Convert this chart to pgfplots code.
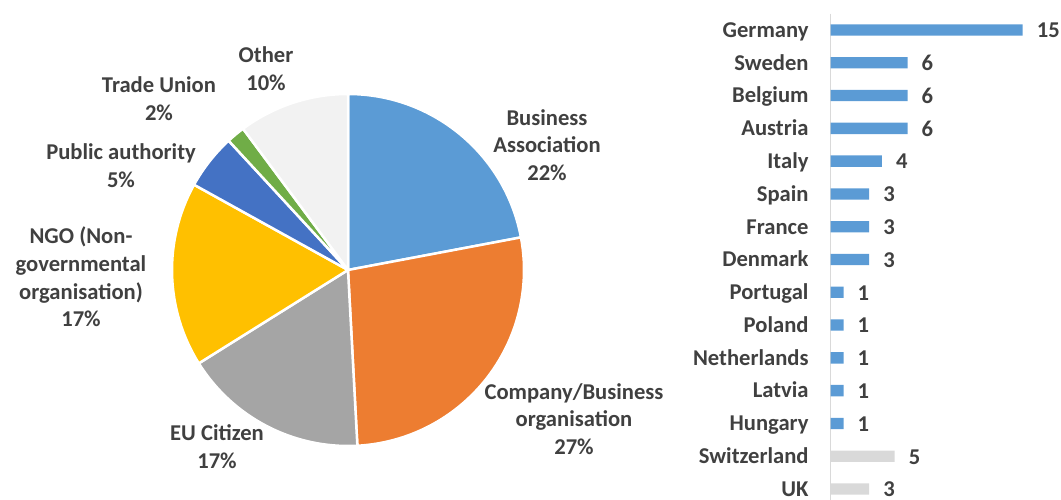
\documentclass[border=0pt]{standalone}
\usepackage{pgfplots}
\pgfplotsset{compat=1.18}
\usepackage{fontspec}
\setmainfont{Carlito}
\definecolor{cBlue}{HTML}{5B9BD5}
\definecolor{cOrange}{HTML}{ED7D31}
\definecolor{cGray}{HTML}{A5A5A5}
\definecolor{cYellow}{HTML}{FFC000}
\definecolor{cDarkBlue}{HTML}{4472C4}
\definecolor{cGreen}{HTML}{70AD47}
\definecolor{cOther}{HTML}{F2F2F2}
\definecolor{cBarGray}{HTML}{D9D9D9}
\definecolor{cText}{HTML}{404040}
\newcommand{\slice}[3]{%
  \fill[#1, draw=white, line width=2.5pt, line join=round] (axis cs:348,230) --
    ([shift={({90-(#2/59)*360}:176pt)}]axis cs:348,230)
    arc[start angle={90-(#2/59)*360}, end angle={90-(#3/59)*360}, radius=176pt] -- cycle;}
\begin{document}
\begin{tikzpicture}
\path[use as bounding box] (0,0) rectangle (1061pt,500pt);
% ---------- pie ----------
\begin{axis}[at={(0pt,0pt)}, anchor=south west, scale only axis,
  width=1061pt, height=500pt, xmin=0, xmax=1061, ymin=0, ymax=500,
  hide axis, clip=false]
% counts: Business 13, Company 16, EU 10, NGO 10, Public 3, Trade 1, Other 6 (total 59)
\slice{cBlue}{0}{13}
\slice{cOrange}{13}{29}
\slice{cGray}{29}{39}
\slice{cYellow}{39}{49}
\slice{cDarkBlue}{49}{52}
\slice{cGreen}{52}{53}
\slice{cOther}{53}{59}
\begin{scope}[every node/.style={text=cText, font=\fontsize{22.6}{27.8}\selectfont\bfseries, align=center, inner sep=0pt}]
\node at (axis cs:547,355) {Business\\Association\\22\%};
\node at (axis cs:574,81) {Company/Business\\organisation\\27\%};
\node at (axis cs:217,53) {EU Citizen\\17\%};
\node at (axis cs:81,223) {NGO (Non-\\governmental\\organisation)\\17\%};
\node at (axis cs:121,334) {Public authority\\5\%};
\node at (axis cs:159,401) {Trade Union\\2\%};
\node at (axis cs:266,431) {Other\\10\%};
\end{scope}
\end{axis}
% ---------- bars ----------
\begin{axis}[at={(830.7pt,486.4pt)}, anchor=north west, scale only axis,
  width=192pt, height=491.8pt,
  xbar, bar width=11.3pt, bar shift=0pt,
  xmin=0, xmax=15, ymin=-0.5, ymax=14.5, y dir=reverse,
  axis x line=none, axis y line*=left,
  axis line style={draw=cBarGray, line width=1.5pt},
  ytick={0,...,14},
  yticklabels={Germany,Sweden,Belgium,Austria,Italy,Spain,France,Denmark,Portugal,Poland,Netherlands,Latvia,Hungary,Switzerland,UK},
  major tick length=0pt,
  y tick label style={font=\fontsize{22.6}{27.8}\selectfont\bfseries, text=cText, inner sep=0pt, anchor=base east, xshift=-22pt, yshift=-7.3pt},
  /pgf/number format/assume math mode=true,
  nodes near coords={\pgfmathprintnumber\pgfplotspointmeta},
  nodes near coords style={font=\fontsize{22.6}{27.8}\selectfont\bfseries, text=cText, anchor=base west, inner sep=0pt, xshift=14pt, yshift=-7.8pt},
  clip=false]
\addplot[fill=cBlue, draw=none] coordinates {
 (15,0) (6,1) (6,2) (6,3) (4,4) (3,5) (3,6) (3,7) (1,8) (1,9) (1,10) (1,11) (1,12)};
\addplot[fill=cBarGray, draw=none] coordinates {(5,13) (3,14)};
\end{axis}
\end{tikzpicture}
\end{document}
